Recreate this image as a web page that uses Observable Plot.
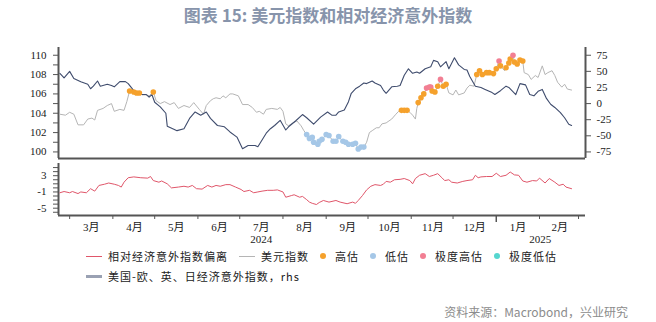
<!DOCTYPE html>
<html><head><meta charset="utf-8">
<script src="https://cdn.jsdelivr.net/npm/d3@7"></script>
<script src="https://cdn.jsdelivr.net/npm/@observablehq/plot@0.6"></script>
<style>
body{margin:0;background:#fff;}
#wrap{position:relative;width:656px;height:322px;overflow:hidden;font-family:"Noto Sans CJK SC",sans-serif;background:#fff;}
#title{position:absolute;left:0;width:656px;top:4px;text-align:center;font-size:17px;font-weight:bold;color:#8794ab;line-height:22px;}
#topc{position:absolute;left:0;top:40px;}
#botc{position:absolute;left:0;top:160px;}
.legend-row{position:absolute;left:86px;display:flex;align-items:center;font-size:11px;letter-spacing:1px;color:#222;height:14px;line-height:14px;white-space:nowrap;}
.item{display:flex;align-items:center;margin-right:11px;}
.sw-line{width:16px;margin-right:6px;}
.sw-dot{width:6px;height:6px;border-radius:50%;margin-right:9px;}
#source{position:absolute;right:28px;top:304px;font-size:12px;line-height:16px;color:#8c8c8c;}
</style></head>
<body>
<div id="wrap">
  <div id="title"></div>
  <div id="topc"></div>
  <div id="botc"></div>
  <div class="legend-row" id="leg1" style="top:249px"></div>
  <div class="legend-row" id="leg2" style="top:269px"></div>
  <div id="source"></div>
</div>
<script>
// ---------------- DATA ----------------
const titleText = "图表 15: 美元指数和相对经济意外指数";
const sourceText = "资料来源：Macrobond，兴业研究";

// 美元指数 (left axis) with valuation state
const dollarIndex = [
["2024-02-23",103.9,""],["2024-02-27",103.8,""],["2024-03-01",104.1,""],["2024-03-04",103.9,""],
["2024-03-07",102.8,""],["2024-03-11",102.8,""],["2024-03-14",103.4,""],["2024-03-17",103.5,""],
["2024-03-19",103.3,""],["2024-03-21",104.3,""],["2024-03-25",104.5,""],["2024-03-28",104.8,""],
["2024-03-31",105.0,""],["2024-04-02",104.2,""],["2024-04-06",104.4,""],["2024-04-09",104.3,""],
["2024-04-11",105.2,""],["2024-04-13",106.3,"高估"],["2024-04-16",106.2,"高估"],["2024-04-18",106.1,"高估"],
["2024-04-20",106.1,"高估"],["2024-04-22",105.9,""],["2024-04-25",105.9,""],["2024-04-27",105.8,""],
["2024-04-30",106.2,"高估"],["2024-05-02",105.3,""],["2024-05-05",105.0,""],["2024-05-08",105.2,""],
["2024-05-12",104.9,""],["2024-05-15",105.1,""],["2024-05-18",104.5,""],["2024-05-22",104.8,""],
["2024-05-26",104.6,""],["2024-05-29",105.1,""],["2024-06-02",104.4,""],["2024-06-05",103.9,""],
["2024-06-07",104.8,""],["2024-06-10",105.3,""],["2024-06-12",105.5,""],["2024-06-14",105.6,""],
["2024-06-17",105.5,""],["2024-06-19",105.8,""],["2024-06-21",105.6,""],["2024-06-24",106.0,""],
["2024-06-26",106.0,""],["2024-06-30",105.8,""],["2024-07-03",104.9,""],["2024-07-07",104.9,""],
["2024-07-10",104.6,""],["2024-07-13",104.1,""],["2024-07-15",104.2,""],["2024-07-18",103.9,""],
["2024-07-20",104.4,""],["2024-07-24",104.5,""],["2024-07-28",104.4,""],["2024-07-30",104.6,""],
["2024-08-01",104.2,""],["2024-08-03",102.9,""],["2024-08-05",102.7,""],["2024-08-08",103.0,""],
["2024-08-11",103.2,""],["2024-08-14",102.7,""],["2024-08-16",102.2,""],["2024-08-18",101.8,"低估"],
["2024-08-20",101.4,"低估"],["2024-08-22",101.5,"低估"],["2024-08-23",101.0,"低估"],["2024-08-26",100.8,"低估"],
["2024-08-27",101.1,"低估"],["2024-08-29",101.3,"低估"],["2024-09-01",101.8,"低估"],["2024-09-03",101.7,"低估"],
["2024-09-06",101.1,"低估"],["2024-09-08",101.1,"低估"],["2024-09-10",101.6,"低估"],["2024-09-13",101.1,"低估"],
["2024-09-15",101.0,"低估"],["2024-09-17",100.8,"低估"],["2024-09-20",100.8,"低估"],["2024-09-22",100.9,"低估"],
["2024-09-24",100.3,"低估"],["2024-09-26",100.5,"低估"],["2024-09-28",100.5,"低估"],["2024-09-30",101.0,""],
["2024-10-02",102.0,""],["2024-10-04",102.2,""],["2024-10-07",102.5,""],["2024-10-09",102.5,""],
["2024-10-11",102.9,""],["2024-10-14",103.0,""],["2024-10-16",103.2,""],["2024-10-18",103.4,""],
["2024-10-21",103.9,""],["2024-10-23",104.2,""],["2024-10-25",104.3,"高估"],["2024-10-27",104.3,"高估"],
["2024-10-29",104.3,"高估"],["2024-10-31",104.1,""],["2024-11-02",103.8,""],["2024-11-04",103.4,""],
["2024-11-05",104.5,""],["2024-11-06",105.1,"高估"],["2024-11-07",105.2,""],["2024-11-08",105.6,"高估"],
["2024-11-10",106.0,"高估"],["2024-11-12",106.6,"极度高估"],["2024-11-14",106.7,"极度高估"],["2024-11-15",106.7,"极度高估"],
["2024-11-16",106.3,"高估"],["2024-11-18",106.2,"高估"],["2024-11-20",106.8,"高估"],["2024-11-22",107.5,"极度高估"],
["2024-11-24",106.8,"高估"],["2024-11-26",107.0,"高估"],["2024-11-28",106.1,""],["2024-12-01",105.9,""],
["2024-12-03",106.4,""],["2024-12-05",105.9,""],["2024-12-09",106.1,""],["2024-12-11",106.6,""],
["2024-12-13",106.9,""],["2024-12-16",106.8,""],["2024-12-18",108.0,"高估"],["2024-12-20",108.4,"高估"],
["2024-12-22",108.0,"高估"],["2024-12-25",108.2,"高估"],["2024-12-27",108.2,"高估"],["2024-12-30",108.1,"高估"],
["2025-01-01",108.6,"高估"],["2025-01-03",109.4,"极度高估"],["2025-01-04",108.9,"高估"],["2025-01-07",108.4,""],
["2025-01-08",108.7,"高估"],["2025-01-10",109.2,"高估"],["2025-01-11",109.6,"高估"],["2025-01-13",110.0,"极度高估"],
["2025-01-14",109.3,"高估"],["2025-01-16",109.1,"高估"],["2025-01-18",109.5,"高估"],["2025-01-20",109.4,"高估"],
["2025-01-21",108.2,""],["2025-01-24",108.0,""],["2025-01-26",107.5,""],["2025-01-29",107.9,""],
["2025-01-31",107.7,""],["2025-02-03",108.9,""],["2025-02-05",108.0,""],["2025-02-07",108.2,""],
["2025-02-10",108.4,""],["2025-02-12",107.9,""],["2025-02-14",107.2,""],["2025-02-17",106.7,""],
["2025-02-19",107.0,""],["2025-02-21",106.5,""],["2025-02-24",106.4,""]
];

// 美国-欧、英、日经济意外指数 (rhs)
const surpriseIndex = [
["2024-02-23",47],["2024-02-26",40],["2024-03-01",50],["2024-03-04",39],["2024-03-09",34],
["2024-03-14",30],["2024-03-16",23],["2024-03-18",27],["2024-03-21",35],["2024-03-23",27],
["2024-03-28",30],["2024-03-31",28],["2024-04-02",26],["2024-04-06",34],["2024-04-10",34],
["2024-04-12",31],["2024-04-16",20],["2024-04-21",14],["2024-04-25",14],["2024-04-27",10],
["2024-04-29",14],["2024-05-01",2],["2024-05-05",-5],["2024-05-09",-15],["2024-05-10",-35],
["2024-05-12",-37],["2024-05-17",-42],["2024-05-22",-39],["2024-05-26",-23],["2024-05-30",-13],
["2024-06-03",-18],["2024-06-07",-13],["2024-06-10",-23],["2024-06-15",-34],["2024-06-20",-36],
["2024-06-24",-44],["2024-06-29",-52],["2024-07-03",-70],["2024-07-07",-65],["2024-07-12",-65],
["2024-07-14",-67],["2024-07-16",-60],["2024-07-20",-46],["2024-07-23",-39],["2024-07-26",-34],
["2024-07-30",-26],["2024-08-03",-41],["2024-08-05",-36],["2024-08-10",-27],["2024-08-15",-17],
["2024-08-18",-22],["2024-08-23",-32],["2024-08-28",-21],["2024-09-02",-13],["2024-09-05",-18],
["2024-09-08",-18],["2024-09-10",-13],["2024-09-14",-10],["2024-09-17",3],["2024-09-19",16],
["2024-09-22",23],["2024-09-25",27],["2024-09-28",32],["2024-09-30",31],["2024-10-04",35],
["2024-10-06",32],["2024-10-10",28],["2024-10-12",21],["2024-10-14",16],["2024-10-18",26],
["2024-10-22",27],["2024-10-24",28],["2024-10-27",44],["2024-10-30",54],["2024-11-02",47],
["2024-11-05",49],["2024-11-07",47],["2024-11-11",54],["2024-11-15",57],["2024-11-17",67],
["2024-11-20",65],["2024-11-22",57],["2024-11-26",65],["2024-11-28",54],["2024-12-02",71],
["2024-12-05",60],["2024-12-09",53],["2024-12-11",52],["2024-12-13",42],["2024-12-17",27],
["2024-12-21",25],["2024-12-24",22],["2024-12-29",17],["2024-12-31",14],["2025-01-04",20],
["2025-01-08",27],["2025-01-10",25],["2025-01-15",14],["2025-01-18",31],["2025-01-22",29],
["2025-01-25",14],["2025-01-28",12],["2025-01-31",19],["2025-02-03",22],["2025-02-06",8],
["2025-02-09",-1],["2025-02-12",-6],["2025-02-16",-14],["2025-02-19",-22],["2025-02-22",-32],
["2025-02-24",-34]
];

// 相对经济意外指数偏离 (lower panel)
const deviation = [
["2024-02-23",-1.2],["2024-02-26",-0.9],["2024-03-01",-1.2],["2024-03-03",-0.9],["2024-03-07",-1.4],
["2024-03-09",-1.0],["2024-03-13",-1.2],["2024-03-16",-0.2],["2024-03-19",-0.8],["2024-03-22",0.6],
["2024-03-26",0.9],["2024-03-29",1.2],["2024-04-02",0.9],["2024-04-05",0.6],["2024-04-07",0.2],
["2024-04-09",1.4],["2024-04-12",2.5],["2024-04-16",2.7],["2024-04-21",2.5],["2024-04-26",2.4],
["2024-04-28",2.8],["2024-04-30",1.8],["2024-05-04",1.4],["2024-05-06",1.7],["2024-05-10",1.0],
["2024-05-13",0.0],["2024-05-18",0.2],["2024-05-22",0.4],["2024-05-25",0.2],["2024-05-28",0.6],
["2024-05-31",-0.2],["2024-06-04",-0.3],["2024-06-08",0.6],["2024-06-11",0.2],["2024-06-14",0.6],
["2024-06-17",0.4],["2024-06-21",0.8],["2024-06-24",0.8],["2024-06-28",0.2],["2024-07-02",-0.4],
["2024-07-04",-0.9],["2024-07-08",-0.6],["2024-07-11",-1.2],["2024-07-14",-1.0],["2024-07-17",-0.8],
["2024-07-21",-0.6],["2024-07-25",-0.6],["2024-07-28",-0.5],["2024-08-01",-1.0],["2024-08-03",-2.3],
["2024-08-07",-1.9],["2024-08-09",-1.7],["2024-08-13",-2.3],["2024-08-15",-2.1],["2024-08-18",-2.9],
["2024-08-20",-3.5],["2024-08-22",-3.8],["2024-08-25",-4.1],["2024-08-27",-3.6],["2024-08-30",-3.1],
["2024-09-03",-3.5],["2024-09-08",-3.1],["2024-09-11",-3.5],["2024-09-16",-3.9],["2024-09-20",-3.5],
["2024-09-22",-3.8],["2024-09-24",-3.1],["2024-09-27",-1.9],["2024-09-30",-0.5],["2024-10-03",0.4],
["2024-10-06",0.8],["2024-10-10",0.6],["2024-10-12",0.9],["2024-10-14",1.6],["2024-10-17",1.4],
["2024-10-20",2.0],["2024-10-24",2.1],["2024-10-27",2.3],["2024-10-31",1.8],["2024-11-02",1.0],
["2024-11-04",2.3],["2024-11-07",3.1],["2024-11-11",3.5],["2024-11-14",2.8],["2024-11-17",3.1],
["2024-11-20",3.5],["2024-11-23",2.5],["2024-11-25",1.8],["2024-11-28",2.0],["2024-11-30",1.4],
["2024-12-04",1.2],["2024-12-08",1.6],["2024-12-11",1.8],["2024-12-15",2.0],["2024-12-17",3.1],
["2024-12-19",2.5],["2024-12-21",2.7],["2024-12-25",2.8],["2024-12-29",2.8],["2025-01-01",3.6],
["2025-01-04",2.8],["2025-01-08",3.1],["2025-01-11",3.9],["2025-01-14",3.2],["2025-01-17",3.1],
["2025-01-20",1.7],["2025-01-23",1.4],["2025-01-27",1.8],["2025-01-30",1.7],["2025-02-01",2.4],
["2025-02-05",1.2],["2025-02-08",2.3],["2025-02-12",1.4],["2025-02-15",0.6],["2025-02-18",0.9],
["2025-02-20",0.2],["2025-02-24",-0.2]
];

const leftTicks = [100,101,102,103,104,105,106,107,108,109,110];
const leftLabels = [100,102,104,106,108,110];
const rhsTicks = [-75,-50,-25,0,25,50,75];
const devTicks = [-6,-5,-4,-3,-2,-1,0,1,2,3,4,5];
const devLabels = [-5,-1,3];
const monthStarts = ["2024-03-01","2024-04-01","2024-05-01","2024-06-01","2024-07-01","2024-08-01","2024-09-01","2024-10-01","2024-11-01","2024-12-01","2025-02-01","2025-03-01"];
const yearStart = ["2025-01-01"];
const monthMids = ["2024-03-16","2024-04-16","2024-05-16","2024-06-16","2024-07-16","2024-08-16","2024-09-16","2024-10-16","2024-11-16","2024-12-16","2025-01-16","2025-02-15"];
const monthLabels = ["3月","4月","5月","6月","7月","8月","9月","10月","11月","12月","1月","2月"];
const yearLabelDates = ["2024-07-16","2025-02-01"];
const yearLabels = ["2024","2025"];
const statusLabels = ["高估","低估","极度高估","极度低估"];
const statusColors = ["#f5a12c","#a5c7e7","#f27f93","#55d6cf"];
const lineLegend = [["相对经济意外指数偏离","#e0566a"],["美元指数","#b5b5b5"]];
const rhsLegend = "美国-欧、英、日经济意外指数，rhs";

// ---------------- BUILD ----------------
const D = s => new Date(s + "T00:00:00Z");
const M = s => new Date(s + "T12:00:00Z");
const X0 = D("2024-02-22"), X1 = D("2025-03-06");
const dxy = dollarIndex.map(([d,v,s]) => ({date:D(d), value:v, status:s}));
const sur = surpriseIndex.map(([d,v]) => ({date:D(d), value:v}));
const dev = deviation.map(([d,v]) => ({date:D(d), value:v}));
const toLeft = r => 105 + r / 15;
const fromLeft = v => Math.round((v - 105) * 15);
const axisColor = "#555";
const font = {fontFamily:'"Liberation Serif","Noto Sans CJK SC",serif', fontSize:"11px", color:"#1a1a1a", background:"transparent", overflow:"visible"};

document.getElementById("title").textContent = titleText;
document.getElementById("source").textContent = sourceText;

const topPlot = Plot.plot({
  width:656, height:120, marginLeft:58, marginRight:71, marginTop:7, marginBottom:2,
  style:font,
  x:{type:"utc", domain:[X0,X1], axis:null},
  y:{domain:[99.32,110.8]},
  color:{domain:statusLabels, range:statusColors},
  marks:[
    Plot.axisY({anchor:"left", label:null, ticks:leftTicks, tickSize:5, tickPadding:7, stroke:axisColor,
      tickFormat:d => leftLabels.includes(d) ? String(d) : ""}),
    Plot.axisY({anchor:"right", label:null, ticks:rhsTicks.map(toLeft), tickSize:5, tickPadding:6, stroke:axisColor,
      tickFormat:v => String(fromLeft(v))}),
    Plot.ruleX([X0], {stroke:axisColor, strokeWidth:2}),
    Plot.ruleX([X1], {stroke:axisColor, strokeWidth:2}),
    Plot.ruleY([99.32], {stroke:axisColor, strokeWidth:2}),
    Plot.line(dxy, {x:"date", y:"value", stroke:"#b5b5b5", strokeWidth:1}),
    Plot.line(sur, {x:"date", y:d => toLeft(d.value), stroke:"#3f4c6d", strokeWidth:1.1}),
    Plot.dot(dxy.filter(d => d.status), {x:"date", y:"value", fill:"status", r:2.8, stroke:"none"})
  ]
});
document.getElementById("topc").appendChild(topPlot);

const midLabel = new Map(monthMids.map((d,i) => [+M(d), monthLabels[i]]));
const years = yearLabelDates.map((d,i) => ({date:M(d), label:yearLabels[i]}));
const botPlot = Plot.plot({
  width:656, height:90, marginLeft:58, marginRight:71, marginTop:3, marginBottom:35,
  style:font,
  x:{type:"utc", domain:[X0,X1]},
  y:{domain:[-6.8,6]},
  marks:[
    Plot.axisY({anchor:"left", label:null, ticks:devTicks, tickSize:5, tickPadding:7, stroke:axisColor,
      tickFormat:d => devLabels.includes(d) ? String(d) : ""}),
    Plot.axisX({label:null, ticks:monthStarts.map(D), tickSize:4, stroke:axisColor, tickFormat:() => ""}),
    Plot.axisX({label:null, ticks:yearStart.map(D), tickSize:7, stroke:axisColor, strokeWidth:1.5, tickFormat:() => ""}),
    Plot.axisX({label:null, ticks:monthMids.map(M), tickSize:0, tickPadding:8, tickFormat:d => midLabel.get(+d)}),
    Plot.text(years, {x:"date", text:"label", frameAnchor:"bottom", dy:27}),
    Plot.ruleX([X0], {stroke:axisColor, strokeWidth:2}),
    Plot.ruleY([-6.8], {stroke:axisColor, strokeWidth:2}),
    Plot.line(dev, {x:"date", y:"value", stroke:"#e0566a", strokeWidth:1})
  ]
});
document.getElementById("botc").appendChild(botPlot);

// legend
const leg1 = document.getElementById("leg1");
lineLegend.forEach(([t,c]) => {
  const it = document.createElement("div"); it.className = "item";
  it.innerHTML = `<span class="sw-line" style="border-top:1.5px solid ${c}"></span><span>${t}</span>`;
  leg1.appendChild(it);
});
statusLabels.forEach((t,i) => {
  const it = document.createElement("div"); it.className = "item";
  it.innerHTML = `<span class="sw-dot" style="background:${statusColors[i]}"></span><span>${t}</span>`;
  leg1.appendChild(it);
});
const leg2 = document.getElementById("leg2");
leg2.innerHTML = `<div class="item"><span class="sw-line" style="border-top:3px solid #9aa1b3"></span><span>${rhsLegend}</span></div>`;
</script>
</body></html>
